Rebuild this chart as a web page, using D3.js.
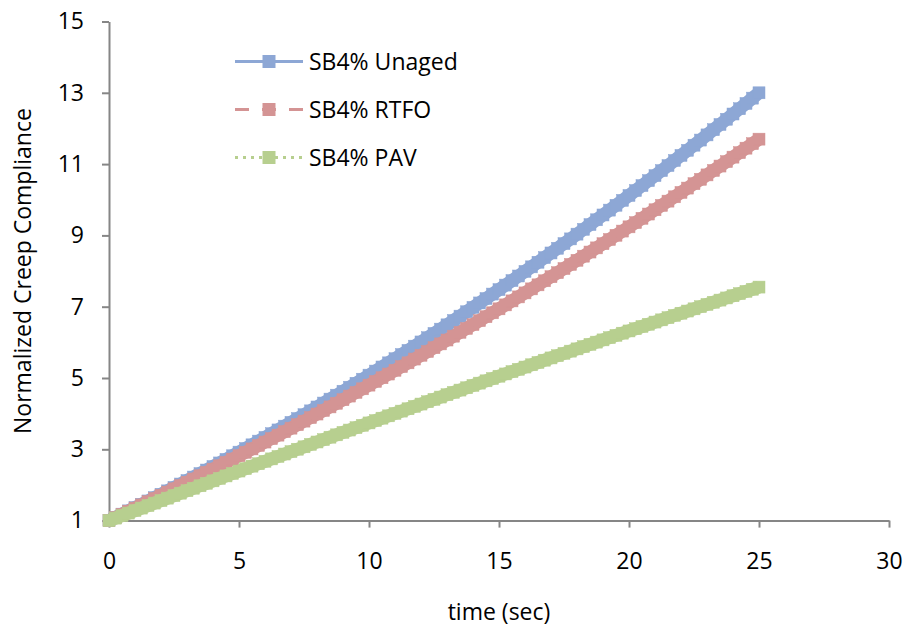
<!DOCTYPE html>
<html>
<head>
<meta charset="utf-8">
<script src="https://cdn.jsdelivr.net/npm/d3@7"></script>
<style>
  html, body { margin: 0; padding: 0; background: #fff; }
  svg { display: block; }
  text { font-family: "Open Sans", Lato, "Liberation Sans", sans-serif; fill: #000; }
</style>
</head>
<body>
<svg id="chart" width="908" height="633"></svg>
<script>
// ---- data ----
const times = [0,0.25,0.5,0.75,1,1.25,1.5,1.75,2,2.25,2.5,2.75,3,3.25,3.5,3.75,4,4.25,4.5,4.75,
  5,5.25,5.5,5.75,6,6.25,6.5,6.75,7,7.25,7.5,7.75,8,8.25,8.5,8.75,9,9.25,9.5,9.75,
  10,10.25,10.5,10.75,11,11.25,11.5,11.75,12,12.25,12.5,12.75,13,13.25,13.5,13.75,14,14.25,14.5,14.75,
  15,15.25,15.5,15.75,16,16.25,16.5,16.75,17,17.25,17.5,17.75,18,18.25,18.5,18.75,19,19.25,19.5,19.75,
  20,20.25,20.5,20.75,21,21.25,21.5,21.75,22,22.25,22.5,22.75,23,23.25,23.5,23.75,24,24.25,24.5,24.75,25];

const unaged = [1.000,1.090,1.181,1.273,1.365,1.458,1.551,1.645,1.739,1.834,1.930,2.026,2.123,2.221,2.319,2.418,2.517,2.617,2.717,2.818,
  2.920,3.022,3.125,3.229,3.333,3.438,3.543,3.649,3.755,3.862,3.970,4.078,4.187,4.297,4.407,4.518,4.629,4.741,4.853,4.966,
  5.080,5.194,5.309,5.425,5.541,5.658,5.775,5.893,6.011,6.130,6.250,6.370,6.491,6.613,6.735,6.858,6.981,7.105,7.229,7.354,
  7.480,7.606,7.733,7.861,7.989,8.118,8.247,8.377,8.507,8.638,8.770,8.902,9.035,9.169,9.303,9.438,9.573,9.709,9.845,9.982,
  10.120,10.258,10.397,10.537,10.677,10.818,10.959,11.101,11.243,11.386,11.530,11.674,11.819,11.965,12.111,12.258,12.405,12.553,12.701,12.850,13.000];

const rtfo = [1.000,1.087,1.175,1.263,1.351,1.440,1.529,1.619,1.709,1.799,1.890,1.981,2.073,2.165,2.257,2.350,2.443,2.537,2.631,2.725,
  2.820,2.915,3.011,3.107,3.203,3.300,3.397,3.495,3.593,3.691,3.790,3.889,3.989,4.089,4.189,4.290,4.391,4.493,4.595,4.697,
  4.800,4.903,5.007,5.111,5.215,5.320,5.425,5.531,5.637,5.743,5.850,5.957,6.065,6.173,6.281,6.390,6.499,6.609,6.719,6.829,
  6.940,7.051,7.163,7.275,7.387,7.500,7.613,7.727,7.841,7.955,8.070,8.185,8.301,8.417,8.533,8.650,8.767,8.885,9.003,9.121,
  9.240,9.359,9.479,9.599,9.719,9.840,9.961,10.083,10.205,10.327,10.450,10.573,10.697,10.821,10.945,11.070,11.195,11.321,11.447,11.573,11.700];

const pav = [1.000,1.070,1.141,1.211,1.281,1.351,1.421,1.491,1.561,1.630,1.700,1.769,1.839,1.908,1.977,2.046,2.115,2.184,2.253,2.321,
  2.390,2.458,2.527,2.595,2.663,2.731,2.799,2.867,2.935,3.002,3.070,3.137,3.205,3.272,3.339,3.406,3.473,3.540,3.607,3.673,
  3.740,3.806,3.873,3.939,4.005,4.071,4.137,4.203,4.269,4.334,4.400,4.465,4.531,4.596,4.661,4.726,4.791,4.856,4.921,4.985,
  5.050,5.114,5.179,5.243,5.307,5.371,5.435,5.499,5.563,5.626,5.690,5.753,5.817,5.880,5.943,6.006,6.069,6.132,6.195,6.257,
  6.320,6.382,6.445,6.507,6.569,6.631,6.693,6.755,6.817,6.878,6.940,7.001,7.063,7.124,7.185,7.246,7.307,7.368,7.429,7.489,7.550];

const seriesNames = ["SB4% Unaged", "SB4% RTFO", "SB4% PAV"];
const xTicks = [0, 5, 10, 15, 20, 25, 30];
const yTicks = [1, 3, 5, 7, 9, 11, 13, 15];
const xTitle = "time (sec)";
const yTitle = "Normalized Creep Compliance";

// ---- styles ----
const colors = ["#8DA7D5", "#D49494", "#B7CF8F"];
const dashes = [null, "14,13", "3,5"];
const axisColor = "#868686";
const fontSize = 23;
const fontFam = "'Open Sans', Lato, sans-serif";

// ---- layout ----
const svg = d3.select("#chart");
const plotL = 109, plotR = 889, plotT = 21.5, plotB = 520.6;

const x = d3.scaleLinear().domain([0, 30]).range([plotL, plotR]);
const y = d3.scaleLinear().domain([1, 15]).range([plotB, plotT]);

// axes
const yAxis = svg.append("g")
  .attr("transform", `translate(${plotL},0)`)
  .call(d3.axisLeft(y).tickValues(yTicks).tickSize(7).tickSizeOuter(0).tickPadding(18).tickFormat(d3.format("d")));
const xAxis = svg.append("g")
  .attr("transform", `translate(0,${plotB})`)
  .call(d3.axisBottom(x).tickValues(xTicks).tickSize(7).tickSizeOuter(0).tickPadding(25).tickFormat(d3.format("d")));

[yAxis, xAxis].forEach(g => {
  g.selectAll("path.domain").attr("stroke", axisColor).attr("stroke-width", 2);
  g.selectAll(".tick line").attr("stroke", axisColor).attr("stroke-width", 2);
  g.selectAll(".tick text").attr("font-size", fontSize).attr("font-family", fontFam).attr("fill", "#000");
});

// series
const series = [unaged, rtfo, pav].map((vals, i) => ({
  name: seriesNames[i],
  color: colors[i],
  dash: dashes[i],
  points: times.map((t, j) => ({ t, v: vals[j] }))
}));

const line = d3.line().x(d => x(d.t)).y(d => y(d.v));
const mSize = 12;

series.forEach(s => {
  const g = svg.append("g");
  // dense run of markers forms a band; a wide underlay fills the gaps between them
  g.append("path")
    .datum(s.points)
    .attr("fill", "none")
    .attr("stroke", s.color)
    .attr("stroke-width", 13)
    .attr("stroke-linecap", "butt")
    .attr("d", line);
  g.append("path")
    .datum(s.points)
    .attr("fill", "none")
    .attr("stroke", s.color)
    .attr("stroke-width", 3)
    .attr("stroke-dasharray", s.dash)
    .attr("d", line);
  g.selectAll("rect")
    .data(s.points)
    .join("rect")
    .attr("x", d => x(d.t) - mSize / 2)
    .attr("y", d => y(d.v) - mSize / 2)
    .attr("width", mSize)
    .attr("height", mSize)
    .attr("fill", s.color)
    .attr("stroke", s.color)
    .attr("stroke-width", 0.5);
});

// legend
const legX0 = 235, legX1 = 303, legRows = [61.5, 109.5, 157.5], legTextX = 309;
series.forEach((s, i) => {
  const g = svg.append("g").attr("transform", `translate(0,${legRows[i]})`);
  g.append("line")
    .attr("x1", legX0).attr("x2", legX1).attr("y1", 0).attr("y2", 0)
    .attr("stroke", s.color).attr("stroke-width", 3)
    .attr("stroke-dasharray", s.dash);
  g.append("rect")
    .attr("x", (legX0 + legX1) / 2 - 6.5).attr("y", -6.5)
    .attr("width", 13).attr("height", 13)
    .attr("fill", s.color);
  g.append("text")
    .attr("x", legTextX).attr("y", 0).attr("dy", "0.35em")
    .attr("font-size", fontSize).attr("font-family", fontFam)
    .text(s.name);
});

// axis titles
svg.append("text")
  .attr("x", (plotL + plotR) / 2).attr("y", 612)
  .attr("text-anchor", "middle").attr("dy", "0.35em")
  .attr("font-size", fontSize).attr("font-family", fontFam)
  .text(xTitle);

svg.append("text")
  .attr("transform", `translate(23,${(plotT + plotB) / 2}) rotate(-90)`)
  .attr("text-anchor", "middle").attr("dy", "0.35em")
  .attr("font-size", fontSize).attr("font-family", fontFam)
  .text(yTitle);
</script>
</body>
</html>
